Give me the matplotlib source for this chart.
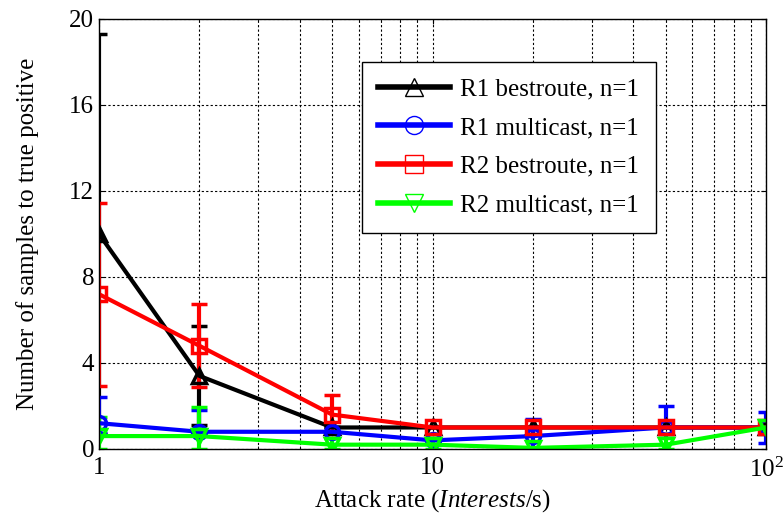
import matplotlib
matplotlib.use("Agg")
import matplotlib.pyplot as plt
from matplotlib.lines import Line2D
import numpy as np

plt.rcParams['font.family'] = ['Liberation Serif', 'DejaVu Serif']
plt.rcParams['mathtext.fontset'] = 'custom'
plt.rcParams['mathtext.rm'] = 'Liberation Serif'
plt.rcParams['mathtext.it'] = 'Liberation Serif:italic'

# attack rates (Interests/s)
rates = [1, 2, 5, 10, 20, 50, 100]

r1_best = [10.0, 3.4, 1.0, 1.0, 1.0, 1.0, 1.0]
r1_best_lo = [9.3, 2.3, 0.0, 0.0, 0.0, 0.0, 0.0]
r1_best_hi = [9.3, 2.3, 0.0, 0.0, 0.0, 0.0, 0.0]

r1_multi = [1.2, 0.8, 0.8, 0.4, 0.6, 1.0, 1.0]
r1_multi_lo = [0.45, 0.0, 0.0, 0.0, 0.6, 0.0, 0.7]
r1_multi_hi = [1.2, 1.0, 0.0, 0.0, 0.8, 1.0, 0.7]

r2_best = [7.2, 4.8, 1.6, 1.0, 1.0, 1.0, 1.0]
r2_best_lo = [4.25, 1.93, 0.9, 0.0, 0.0, 0.0, 0.0]
r2_best_hi = [4.25, 1.93, 0.9, 0.0, 0.0, 0.0, 0.0]

r2_multi = [0.6, 0.6, 0.2, 0.2, 0.05, 0.2, 1.0]
r2_multi_lo = [0.6, 0.6, 0.2, 0.2, 0.05, 0.2, 0.0]
r2_multi_hi = [0.9, 1.35, 0.3, 0.3, 0.0, 0.5, 0.0]

series = [
    ('R1 bestroute, n=1', r1_best, r1_best_lo, r1_best_hi, 'black', '^'),
    ('R1 multicast, n=1', r1_multi, r1_multi_lo, r1_multi_hi, '#0000ff', 'o'),
    ('R2 bestroute, n=1', r2_best, r2_best_lo, r2_best_hi, '#ff0000', 's'),
    ('R2 multicast, n=1', r2_multi, r2_multi_lo, r2_multi_hi, '#00ff00', 'v'),
]

fig = plt.figure(figsize=(7.83, 5.15), dpi=100)
ax = fig.add_axes([0.1264, 0.1282, 0.852, 0.835])

handles = []
for label, y, lo, hi, c, m in series:
    ax.errorbar(rates, y, yerr=[lo, hi], color=c, lw=3, marker=m, ms=10,
                mfc='none', mec=c, mew=2.5, capsize=6, capthick=3,
                elinewidth=3)
    handles.append(Line2D([], [], color=c, lw=4, marker=m, ms=13,
                          mfc='none', mec=c, mew=1.0, label=label))

ax.set_xscale('log')
ax.set_xlim(1, 100)
ax.set_ylim(0, 20)
ax.set_yticks([0, 4, 8, 12, 16, 20])
ax.set_xticks([1, 10, 100])
ax.set_xticklabels(['1', '10', r'$10^2$'])
ax.grid(True, which='major', color='black', ls=(0, (2, 2)), lw=0.8)
ax.grid(True, which='minor', axis='x', color='black', ls=(0, (2, 2)), lw=0.8)
ax.tick_params(which='both', direction='in', labelsize=18, top=True, right=True)
ax.tick_params(axis='x', pad=6)
for s in ax.spines.values():
    s.set_linewidth(1.0)

ax.set_xlabel(r'Attack rate ($\mathit{Interests}$/s)', fontsize=18, labelpad=4)
ax.set_ylabel('Number of samples to true positive', fontsize=18, labelpad=22)

leg = ax.legend(handles=handles, loc='upper left', bbox_to_anchor=(0.375, 0.93),
                fontsize=18, fancybox=False, framealpha=1, edgecolor='black',
                handlelength=2.9, handletextpad=0.4, borderpad=0.65,
                labelspacing=0.65)
leg.get_frame().set_linewidth(1.0)

fig.savefig('out.png', dpi=100)
